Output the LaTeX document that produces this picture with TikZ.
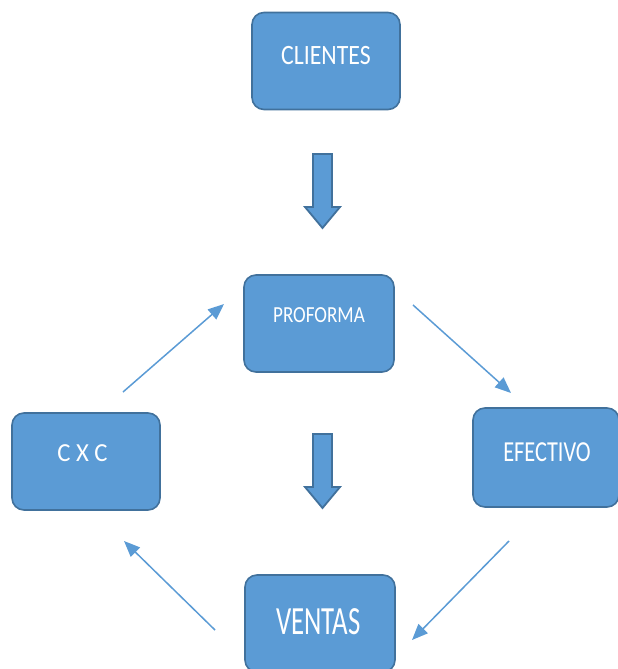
\documentclass[tikz,border=0pt]{standalone}
\usepackage{fontspec}
\setmainfont{Carlito}
\usetikzlibrary{arrows.meta}
\definecolor{boxfill}{HTML}{5B9BD5}
\definecolor{boxline}{HTML}{41719C}
\definecolor{arrowc}{HTML}{5B9BD5}
\tikzset{
  box/.style={draw=boxline, line width=1.6pt, fill=boxfill, rounded corners=12pt, inner sep=0pt},
  lbl/.style={text=white, inner sep=0pt, anchor=center},
  thinarrow/.style={draw=arrowc, line width=1.5pt, -{Triangle[length=16pt,width=13pt]}},
  blockarrow/.style={draw=boxline, line width=1.8pt, fill=boxfill, line join=miter}
}
\newcommand{\blockdown}[1]{%
  \draw[blockarrow] ($(#1)+(-9.5,0)$) -- ($(#1)+(9.5,0)$) -- ($(#1)+(9.5,53)$) -- ($(#1)+(17.5,53)$)
    -- ($(#1)+(0,74)$) -- ($(#1)+(-17.5,53)$) -- ($(#1)+(-9.5,53)$) -- cycle;}
\usetikzlibrary{calc}
\begin{document}
\begin{tikzpicture}[x=1pt,y=-1pt]
\useasboundingbox (0,0) rectangle (618,669);
% boxes
\node[box, minimum width=148pt, minimum height=97pt] (clientes) at (326,61) {};
\node[box, minimum width=150pt, minimum height=97pt] (proforma) at (319,323.5) {};
\node[box, minimum width=148pt, minimum height=97pt] (cxc) at (86,461.5) {};
\node[box, minimum width=146pt, minimum height=99pt] (efectivo) at (546,457.5) {};
\node[box, minimum width=150pt, minimum height=97pt] (ventas) at (320,623.5) {};
% labels
\node[lbl, font=\fontsize{28}{28}\selectfont] (tclientes) at (326,56) {\scalebox{0.85}[1]{CLIENTES}};
\node[lbl, font=\fontsize{23}{23}\selectfont] (tproforma) at (319,315.5) {\scalebox{0.83}[1]{PROFORMA}};
\node[lbl, font=\fontsize{26}{26}\selectfont] (tcxc) at (82.5,453.5) {\scalebox{0.95}[1]{C X C}};
\node[lbl, font=\fontsize{29}{29}\selectfont] (tefectivo) at (547,452.5) {\scalebox{0.77}[1]{EFECTIVO}};
\node[lbl, font=\fontsize{40}{40}\selectfont] (tventas) at (318.5,622) {\scalebox{0.67}[1]{VENTAS}};
% block arrows
\coordinate (b1) at (322.5,154);
\coordinate (b2) at (322.5,434);
\blockdown{b1}
\blockdown{b2}
% thin arrows
\coordinate (a1s) at (123,392); \coordinate (a1e) at (224,304);
\coordinate (a2s) at (413,305); \coordinate (a2e) at (511,393);
\coordinate (a3s) at (509,541); \coordinate (a3e) at (412,640);
\coordinate (a4s) at (215,630); \coordinate (a4e) at (124,541);
\draw[thinarrow] (a1s) -- (a1e);
\draw[thinarrow] (a2s) -- (a2e);
\draw[thinarrow] (a3s) -- (a3e);
\draw[thinarrow] (a4s) -- (a4e);
\end{tikzpicture}
\end{document}
